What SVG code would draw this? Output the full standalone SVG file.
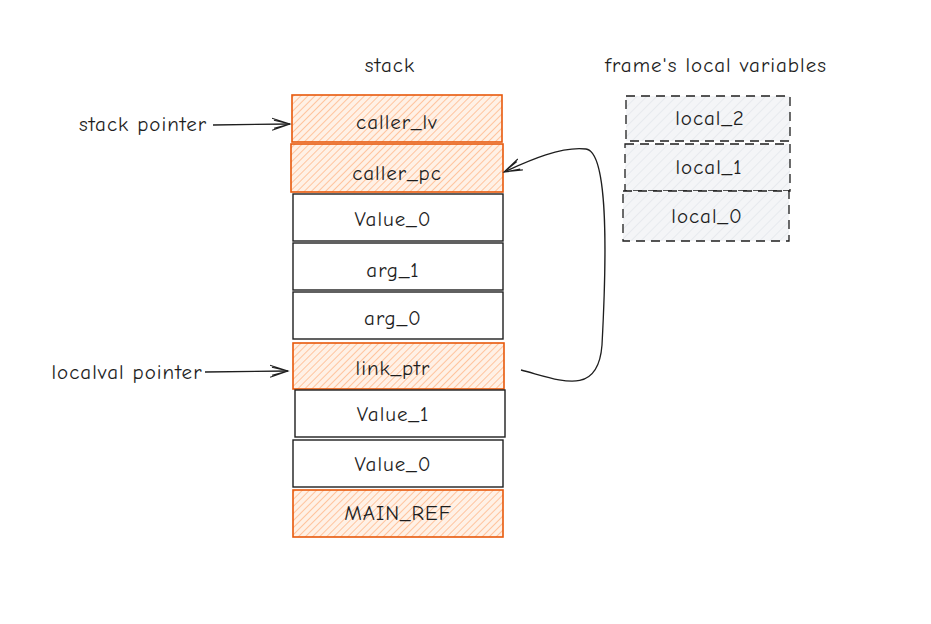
<svg xmlns="http://www.w3.org/2000/svg" width="931" height="624" viewBox="0 0 931 624">
<style>
  text { font-family: "Comic Neue", "Liberation Sans", sans-serif; font-size: 21px; letter-spacing: 1px; fill: #1e1e1e; text-anchor: middle; dominant-baseline: central; }
  .or { fill: url(#hatchO); stroke: #e8590c; stroke-width: 1.6; }
  .wh { fill: #ffffff; stroke: #1e1e1e; stroke-width: 1.4; }
  .gr { fill: url(#hatchG); stroke: #1e1e1e; stroke-width: 1.3; stroke-dasharray: 9 6; }
  .ln { fill: none; stroke: #1e1e1e; stroke-width: 1.3; }
</style>
<defs>
  <pattern id="hatchO" patternUnits="userSpaceOnUse" width="5" height="5" patternTransform="rotate(45)">
    <rect width="5" height="5" fill="#fff1e6"/>
    <line x1="0" y1="0" x2="0" y2="5" stroke="#ffa66e" stroke-width="1.2"/>
  </pattern>
  <pattern id="hatchG" patternUnits="userSpaceOnUse" width="7" height="7" patternTransform="rotate(45)">
    <rect width="7" height="7" fill="#f4f5f7"/>
    <line x1="0" y1="0" x2="0" y2="7" stroke="#dfe3e8" stroke-width="1.2"/>
  </pattern>
  <marker id="arr" markerWidth="20" markerHeight="14" refX="18" refY="7" orient="auto" markerUnits="userSpaceOnUse">
    <path d="M0 1 L18 7 L0 13 M2 3 L18 7 L2 11" fill="none" stroke="#1e1e1e" stroke-width="1.1"/>
  </marker>
</defs>
<rect width="931" height="624" fill="#ffffff"/>
<text x="390" y="65">stack</text>
<text x="716" y="65">frame's local variables</text>
<text x="143" y="124">stack pointer</text>
<text x="127" y="372">localval pointer</text>

<g id="caller_lv"><rect class="or" x="292" y="95" width="210" height="47"/><text x="397" y="122">caller_lv</text></g>
<g id="caller_pc"><rect class="or" x="291" y="144" width="212" height="48"/><text x="397" y="173">caller_pc</text></g>
<g id="value_0a"><rect class="wh" x="293" y="194" width="210" height="47"/><text x="393" y="219">Value_0</text></g>
<g id="arg_1"><rect class="wh" x="293" y="243" width="210" height="47"/><text x="393" y="270">arg_1</text></g>
<g id="arg_0"><rect class="wh" x="293" y="292" width="210" height="47"/><text x="393" y="318">arg_0</text></g>
<g id="link_ptr"><rect class="or" x="293" y="343" width="211" height="46"/><text x="393" y="368">link_ptr</text></g>
<g id="value_1"><rect class="wh" x="295" y="390" width="210" height="47"/><text x="393" y="414">Value_1</text></g>
<g id="value_0b"><rect class="wh" x="293" y="440" width="210" height="47"/><text x="393" y="464">Value_0</text></g>
<g id="main_ref"><rect class="or" x="293" y="490" width="210" height="47"/><text x="398" y="513">MAIN_REF</text></g>

<g id="local_2"><rect class="gr" x="626" y="96" width="164" height="45"/><text x="710" y="118">local_2</text></g>
<g id="local_1"><rect class="gr" x="625" y="144" width="165" height="47"/><text x="709" y="167">local_1</text></g>
<g id="local_0"><rect class="gr" x="623" y="191" width="166" height="50"/><text x="707" y="216">local_0</text></g>

<g id="connectors">
  <path class="ln" d="M213 125 L290 124" marker-end="url(#arr)"/>
  <path class="ln" d="M205 372 L288 371" marker-end="url(#arr)"/>
  <path class="ln" d="M521 370 C560 380 598 398 602 345 C606 270 610 152 586 149 C562 146 530 160 504 172" marker-end="url(#arr)"/>
</g>
</svg>
